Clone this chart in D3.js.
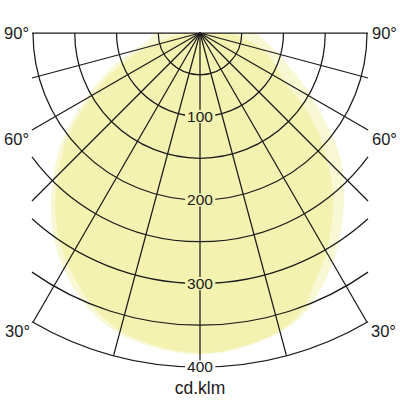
<!DOCTYPE html>
<html>
<head>
<meta charset="utf-8">
<script src="https://cdn.jsdelivr.net/npm/d3@7"></script>
<style>
  html, body { margin: 0; padding: 0; background: #fff; }
  svg { display: block; }
  text { font-family: "Liberation Sans", Arial, sans-serif; fill: #1a1a1a; }
</style>
</head>
<body>
<script>
// Polar angles (degrees from nadir) at which the curves were read
var angles = [0, 5, 10, 15, 20, 25, 30, 35, 40, 45, 50, 55, 60, 65, 70, 75, 80, 85, 90];
// Luminous intensity, cd/klm
var c0Left   = [385, 383, 379, 373, 362, 346, 326, 304, 278, 249, 221, 190, 158, 132, 106, 82, 66, 58, 55];
var c0Right  = [383, 381, 376, 369, 355, 327, 303, 275, 248, 215, 185, 150, 118, 103, 90, 78, 62, 48, 40];
var c90Left  = [383, 381, 376, 369, 356, 338, 318, 296, 270, 240, 212, 180, 147, 120, 92, 65, 40, 20, 0];
var c90Right = [385, 383, 378, 371, 360, 340, 318, 293, 268, 243, 215, 182, 155, 132, 112, 98, 85, 75, 65];

var ringValues = [50, 100, 150, 200, 250, 300, 350, 400];
var ringLabels = [100, 200, 300, 400];
var rayAngles = [-90, -75, -60, -45, -30, -15, 0, 15, 30, 45, 60, 75, 90];
var angleLabels = [90, 60, 30];
var unitLabel = "cd.klm";

var width = 400, height = 400;
var cx = 200, cy = 33;
var halfWidth = 168;   // grid clipped to a vertical strip
var maxValue = 400;

var r = d3.scaleLinear().domain([0, maxValue]).range([0, 334]);
var rad = function (deg) { return deg * Math.PI / 180; };
var px = function (deg, v) { return cx + r(v) * Math.sin(rad(deg)); };
var py = function (deg, v) { return cy + r(v) * Math.cos(rad(deg)); };

var svg = d3.select("body").append("svg")
    .attr("width", width)
    .attr("height", height);

// build a closed curve from a left and a right half
function curvePoints(left, right) {
    var pts = [];
    for (var i = angles.length - 1; i >= 0; i--) pts.push([-angles[i], left[i]]);
    for (var j = 1; j < angles.length; j++) pts.push([angles[j], right[j]]);
    return pts;
}
var radial = d3.lineRadial()
    .angle(function (d) { return Math.PI - rad(d[0]); })
    .radius(function (d) { return r(d[1]); })
    .curve(d3.curveCatmullRom);
var pathC0 = radial(curvePoints(c0Left, c0Right)) + "Z";
var pathC90 = radial(curvePoints(c90Left, c90Right)) + "Z";

var lightFill = "#f8f8d4", darkFill = "#f3f2b0";

svg.append("clipPath").attr("id", "clipC0")
    .append("path").attr("d", pathC0).attr("transform", "translate(" + cx + "," + cy + ")");

var curves = svg.append("g").attr("transform", "translate(" + cx + "," + cy + ")");
curves.append("path").attr("d", pathC0).attr("fill", lightFill);
curves.append("path").attr("d", pathC90).attr("fill", lightFill);
svg.append("g").attr("clip-path", "url(#clipC0)")
    .append("path").attr("d", pathC90).attr("fill", darkFill)
    .attr("transform", "translate(" + cx + "," + cy + ")");

// grid
var grid = svg.append("g")
    .attr("fill", "none")
    .attr("stroke", "#1a1a1a")
    .attr("stroke-width", 1.25);

ringValues.forEach(function (v) {
    var R = r(v);
    var a = R <= halfWidth ? 90 : Math.asin(halfWidth / R) * 180 / Math.PI;
    var arc = d3.arc()
        .innerRadius(R).outerRadius(R)
        .startAngle(Math.PI - rad(a)).endAngle(Math.PI + rad(a));
    grid.append("path")
        .attr("d", arc())
        .attr("transform", "translate(" + cx + "," + cy + ")");
});

rayAngles.forEach(function (deg) {
    var s = Math.abs(Math.sin(rad(deg)));
    var len = s > 0 ? Math.min(r(maxValue), halfWidth / s) : r(maxValue);
    var v = r.invert(len);
    grid.append("line")
        .attr("x1", cx).attr("y1", cy)
        .attr("x2", px(deg, v)).attr("y2", py(deg, v));
});

// value labels along the nadir
ringLabels.forEach(function (v) {
    var g = svg.append("g");
    var bg = g.append("rect");
    var t = g.append("text")
        .attr("x", px(0, v)).attr("y", py(0, v))
        .attr("dy", "0.35em")
        .attr("text-anchor", "middle")
        .attr("font-size", 15.5)
        .text(v);
    var b = t.node().getBBox();
    bg.attr("x", b.x - 2).attr("y", b.y + 2)
        .attr("width", b.width + 4).attr("height", b.height - 4)
        .attr("fill", v < 400 ? darkFill : "#fff");
});

// angle labels at both sides
angleLabels.forEach(function (deg) {
    var len = Math.min(r(maxValue), halfWidth / Math.sin(rad(deg)));
    var v = r.invert(len);
    var y = py(deg, v) + (deg === 90 ? 0 : 9);
    svg.append("text")
        .attr("x", px(-deg, v) - 3).attr("y", y).attr("dy", "0.35em")
        .attr("text-anchor", "end").attr("font-size", 16.5)
        .text(deg + "°");
    svg.append("text")
        .attr("x", px(deg, v) + 4).attr("y", y).attr("dy", "0.35em")
        .attr("text-anchor", "start").attr("font-size", 16.5)
        .text(deg + "°");
});

svg.append("text")
    .attr("x", cx).attr("y", 394)
    .attr("text-anchor", "middle")
    .attr("font-size", 17.5)
    .text(unitLabel);
</script>
</body>
</html>
